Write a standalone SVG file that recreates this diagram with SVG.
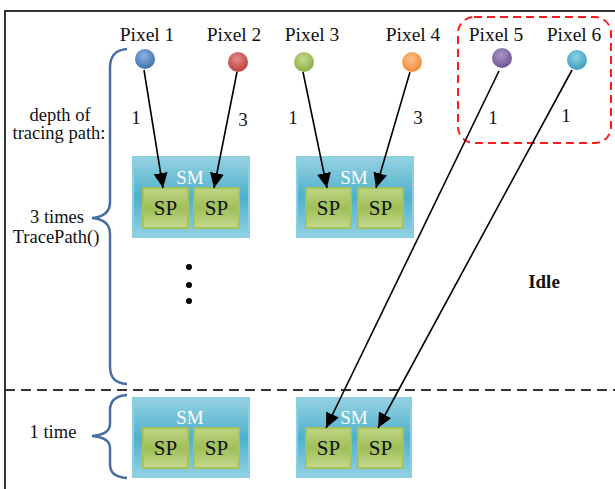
<svg xmlns="http://www.w3.org/2000/svg" width="615" height="489" viewBox="0 0 615 489">
<defs>
<style>
text{font-family:"Liberation Serif","Times New Roman",Times,serif;fill:#111}
.lbl{font-size:19.5px;text-anchor:middle}
.num{font-size:19px;text-anchor:middle}
.side{font-size:18.5px;text-anchor:middle}
.sm{fill:url(#smg);stroke:#8dcfe0;stroke-width:2}
.sp{fill:url(#spg);stroke:#a6c25a;stroke-width:2}
.smt{font-size:19px;fill:#ffffff;text-anchor:middle}
.spt{font-size:21px;text-anchor:middle}
.arr{stroke:#000;stroke-width:1.6;fill:none;marker-end:url(#ah)}
.brace{fill:none;stroke:#4a6ea3;stroke-width:2.5}
</style>
<linearGradient id="smg" x1="0" y1="0" x2="0" y2="1">
<stop offset="0" stop-color="#96d2e3"/>
<stop offset="0.5" stop-color="#4eb0cb"/>
<stop offset="1" stop-color="#92d1e3"/>
</linearGradient>
<linearGradient id="spg" x1="0" y1="0" x2="0" y2="1">
<stop offset="0" stop-color="#bfd586"/>
<stop offset="0.5" stop-color="#a0bf58"/>
<stop offset="1" stop-color="#c3d990"/>
</linearGradient>
<radialGradient id="gb" cx="0.45" cy="0.35" r="0.65"><stop offset="0" stop-color="#8fb3e0"/><stop offset="1" stop-color="#3f6fb0"/></radialGradient>
<radialGradient id="gr" cx="0.45" cy="0.35" r="0.65"><stop offset="0" stop-color="#e58a88"/><stop offset="1" stop-color="#b8403d"/></radialGradient>
<radialGradient id="gg" cx="0.45" cy="0.35" r="0.65"><stop offset="0" stop-color="#c4dc8c"/><stop offset="1" stop-color="#8aae45"/></radialGradient>
<radialGradient id="go" cx="0.45" cy="0.35" r="0.65"><stop offset="0" stop-color="#fbc08a"/><stop offset="1" stop-color="#f08a35"/></radialGradient>
<radialGradient id="gp" cx="0.45" cy="0.35" r="0.65"><stop offset="0" stop-color="#ac96c8"/><stop offset="1" stop-color="#6f5394"/></radialGradient>
<radialGradient id="gc" cx="0.45" cy="0.35" r="0.65"><stop offset="0" stop-color="#8dd0e2"/><stop offset="1" stop-color="#3aa0bd"/></radialGradient>
<marker id="ah" markerUnits="userSpaceOnUse" markerWidth="16" markerHeight="14" refX="15" refY="7" orient="auto">
<path d="M0,0 L15,7 L0,14 Z" fill="#000"/>
</marker>
</defs>

<g id="frame">
<line x1="5" y1="11" x2="615" y2="11" stroke="#333" stroke-width="2"/>
<line x1="5" y1="10" x2="5" y2="489" stroke="#333" stroke-width="2"/>
<line x1="5" y1="390" x2="615" y2="390" stroke="#333" stroke-width="2" stroke-dasharray="10,6"/>
<rect x="458" y="17" width="153" height="126" rx="16" fill="none" stroke="#ff1a1a" stroke-width="2" stroke-dasharray="8,5"/>
</g>

<g id="pixel1"><text class="lbl" x="147" y="41">Pixel 1</text><circle cx="145" cy="59" r="10" fill="url(#gb)"/></g>
<g id="pixel2"><text class="lbl" x="234" y="41">Pixel 2</text><circle cx="238" cy="62" r="10" fill="url(#gr)"/></g>
<g id="pixel3"><text class="lbl" x="312" y="41">Pixel 3</text><circle cx="304" cy="62" r="10" fill="url(#gg)"/></g>
<g id="pixel4"><text class="lbl" x="413" y="41">Pixel 4</text><circle cx="412" cy="62" r="10" fill="url(#go)"/></g>
<g id="pixel5"><text class="lbl" x="496" y="41">Pixel 5</text><circle cx="502" cy="58" r="10" fill="url(#gp)"/></g>
<g id="pixel6"><text class="lbl" x="574" y="41">Pixel 6</text><circle cx="577" cy="60" r="10" fill="url(#gc)"/></g>

<g id="depths">
<text class="num" x="136" y="124">1</text>
<text class="num" x="243" y="126">3</text>
<text class="num" x="293" y="124">1</text>
<text class="num" x="418" y="124">3</text>
<text class="num" x="493" y="124">1</text>
<text class="num" x="566" y="122">1</text>
</g>

<g id="labels">
<text class="side" x="60" y="121">depth of</text>
<text class="side" x="59" y="139">tracing path:</text>
<text class="side" x="57" y="223">3 times</text>
<text class="side" x="56" y="243">TracePath()</text>
<text class="side" x="53" y="438">1 time</text>
<text x="544" y="288" style="font-size:19px;font-weight:bold;text-anchor:middle">Idle</text>
</g>

<g id="braces">
<path class="brace" d="M127,49 C115,50 110,56 110,68 L110,202 C110,212 104,217 92,218 C104,219 110,224 110,234 L110,366 C110,378 115,383 127,384"/>
<path class="brace" d="M127,395 C115,396 110,401 110,410 L110,424 C110,431 104,435 92,436 C104,437 110,441 110,448 L110,464 C110,473 115,477 127,478"/>
</g>

<g id="dots" fill="#000">
<circle cx="189" cy="267" r="3"/>
<circle cx="189" cy="285" r="3"/>
<circle cx="189" cy="301" r="3"/>
</g>

<g id="sm1">
<rect class="sm" x="133" y="157" width="116" height="80"/>
<text class="smt" x="190" y="184">SM</text>
<rect class="sp" x="143" y="188" width="45" height="40"/><text class="spt" x="165.5" y="215">SP</text>
<rect class="sp" x="194" y="188" width="45" height="40"/><text class="spt" x="216.5" y="215">SP</text>
</g>
<g id="sm2">
<rect class="sm" x="297" y="157" width="116" height="80"/>
<text class="smt" x="354" y="184">SM</text>
<rect class="sp" x="306" y="188" width="45" height="40"/><text class="spt" x="328.5" y="215">SP</text>
<rect class="sp" x="358" y="188" width="45" height="40"/><text class="spt" x="380.5" y="215">SP</text>
</g>
<g id="sm3">
<rect class="sm" x="133" y="398" width="116" height="79"/>
<text class="smt" x="190" y="424">SM</text>
<rect class="sp" x="143" y="428" width="45" height="40"/><text class="spt" x="165.5" y="455">SP</text>
<rect class="sp" x="194" y="428" width="45" height="40"/><text class="spt" x="216.5" y="455">SP</text>
</g>
<g id="sm4">
<rect class="sm" x="297" y="398" width="114" height="79"/>
<text class="smt" x="354" y="424">SM</text>
<rect class="sp" x="306" y="428" width="45" height="40"/><text class="spt" x="328.5" y="455">SP</text>
<rect class="sp" x="358" y="428" width="45" height="40"/><text class="spt" x="380.5" y="455">SP</text>
</g>

<g id="connectors">
<line class="arr" x1="144" y1="70" x2="163" y2="188"/>
<line class="arr" x1="237" y1="72" x2="214" y2="188"/>
<line class="arr" x1="303" y1="72" x2="327" y2="188"/>
<line class="arr" x1="410" y1="72" x2="376" y2="188"/>
<line class="arr" x1="499" y1="71" x2="326" y2="428"/>
<line class="arr" x1="572" y1="70" x2="378" y2="428"/>
</g>
</svg>
